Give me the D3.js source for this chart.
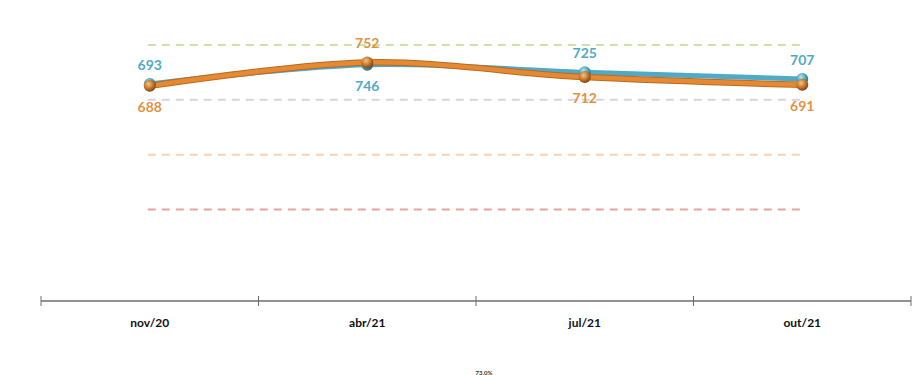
<!DOCTYPE html>
<html>
<head>
<meta charset="utf-8">
<script src="https://cdn.jsdelivr.net/npm/d3@7"></script>
<style>
  body { margin: 0; background: #fff; }
  svg { display: block; font-family: Lato, "Open Sans", sans-serif; }
</style>
</head>
<body>
<svg id="chart" width="914" height="375"></svg>
<script>
// data
const categories = ["nov/20", "abr/21", "jul/21", "out/21"];
const seriesBlue = [693, 746, 725, 707];
const seriesOrange = [688, 752, 712, 691];
const thresholds = [800, 650, 500, 350];
const thresholdColors = ["#c9e3a8", "#d6d4e4", "#f9d2b4", "#e8a39b"];
const bottomNote = "73,0%";

// where each label sits relative to its point
const bluePlace = ["above", "below", "above", "above"];
const orangePlace = ["below", "above", "below", "below"];

const svg = d3.select("#chart");

const x = d3.scaleBand()
    .domain(categories)
    .range([41, 911])
    .padding(0);

const y = d3.scaleLinear()
    .domain([100, 900])
    .range([301, 8.3]);

const cx = d => x(d) + x.bandwidth() / 2;

// gradients for the little 3d balls
const defs = svg.append("defs");
function ball(id, light, mid, dark) {
    const g = defs.append("radialGradient")
        .attr("id", id).attr("cx", "40%").attr("cy", "35%").attr("r", "65%");
    g.append("stop").attr("offset", "0%").attr("stop-color", light);
    g.append("stop").attr("offset", "55%").attr("stop-color", mid);
    g.append("stop").attr("offset", "100%").attr("stop-color", dark);
}
ball("ballBlue", "#bfe6f2", "#4aa9c4", "#2a6f85");
ball("ballOrange", "#f2c48e", "#c97a2c", "#7a4410");

// threshold dashed lines
svg.append("g").selectAll("line")
    .data(thresholds)
    .enter().append("line")
    .attr("x1", cx(categories[0]) - 2)
    .attr("x2", cx(categories[categories.length - 1]) + 2)
    .attr("y1", d => y(d))
    .attr("y2", d => y(d))
    .attr("stroke", (d, i) => thresholdColors[i])
    .attr("stroke-width", 2)
    .attr("stroke-dasharray", "8,6");

// x axis
const xAxis = svg.append("g")
    .attr("transform", "translate(0," + y(100) + ")");
xAxis.append("line")
    .attr("x1", 41).attr("x2", 911)
    .attr("stroke", "#6e6e6e").attr("stroke-width", 1.6);
xAxis.selectAll(".tick")
    .data(categories.concat(["end"]))
    .enter().append("line")
    .attr("x1", (d, i) => i < categories.length ? x(d) : 911)
    .attr("x2", (d, i) => i < categories.length ? x(d) : 911)
    .attr("y1", -5).attr("y2", 5)
    .attr("stroke", "#6e6e6e").attr("stroke-width", 1);
xAxis.selectAll(".cat")
    .data(categories)
    .enter().append("text")
    .attr("x", d => cx(d))
    .attr("y", 26)
    .attr("text-anchor", "middle")
    .attr("font-size", 12)
    .attr("font-weight", "bold")
    .attr("fill", "#111")
    .text(d => d);

// lines
const line = d3.line()
    .x((d, i) => cx(categories[i]))
    .y(d => y(d))
    .curve(d3.curveCardinal.tension(0));

svg.append("path")
    .datum(seriesBlue)
    .attr("fill", "none")
    .attr("stroke", "#4eaac6")
    .attr("stroke-width", 5)
    .attr("d", line);

svg.append("path")
    .datum(seriesOrange)
    .attr("fill", "none")
    .attr("stroke", "#b86a22")
    .attr("stroke-width", 6.5)
    .attr("d", line);
svg.append("path")
    .datum(seriesOrange)
    .attr("fill", "none")
    .attr("stroke", "#e58a33")
    .attr("stroke-width", 4.5)
    .attr("d", line);

// markers
function markers(data, fillId) {
    svg.append("g").selectAll("circle")
        .data(data)
        .enter().append("circle")
        .attr("cx", (d, i) => cx(categories[i]))
        .attr("cy", d => y(d))
        .attr("r", 6)
        .attr("fill", "url(#" + fillId + ")");
}
markers(seriesBlue, "ballBlue");
markers(seriesOrange, "ballOrange");

// value labels
function labels(data, place, color) {
    svg.append("g").selectAll("text")
        .data(data)
        .enter().append("text")
        .attr("x", (d, i) => cx(categories[i]))
        .attr("y", (d, i) => y(d) + (place[i] === "above" ? -14 : 26))
        .attr("text-anchor", "middle")
        .attr("font-size", 14)
        .attr("font-weight", "bold")
        .attr("fill", color)
        .text(d => d);
}
labels(seriesBlue, bluePlace, "#4eaac6");
labels(seriesOrange, orangePlace, "#e0923f");

// stray small label at the bottom
svg.append("text")
    .attr("x", 484)
    .attr("y", 375)
    .attr("text-anchor", "middle")
    .attr("font-size", 6)
    .attr("font-weight", "bold")
    .attr("fill", "#333")
    .text(bottomNote);
</script>
</body>
</html>
